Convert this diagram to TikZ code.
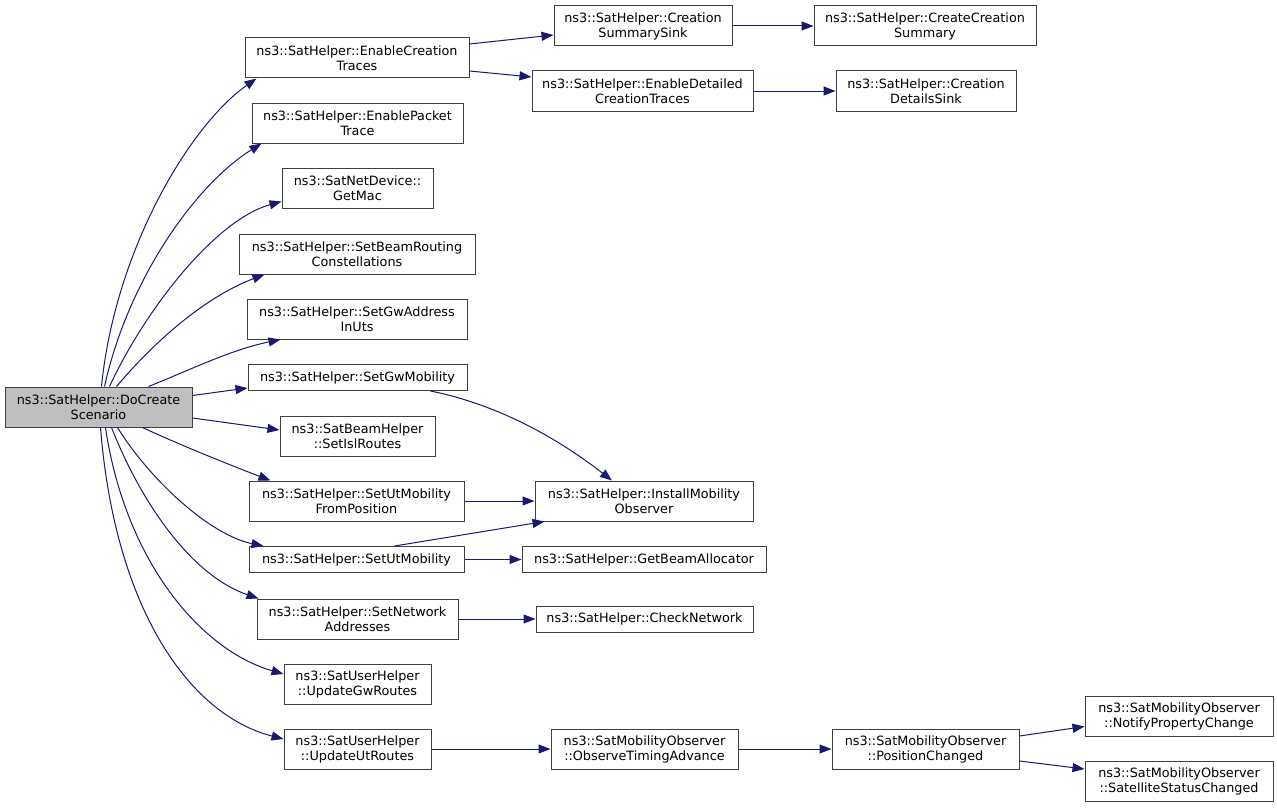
\documentclass[tikz,border=0pt]{standalone}
\usepackage{fontspec}
\setmainfont{DejaVu Sans}
\usetikzlibrary{arrows.meta,calc}
\definecolor{edgeblue}{HTML}{191970}
\definecolor{boxline}{HTML}{404040}
\definecolor{rootfill}{HTML}{BFBFBF}
\begin{document}
\begin{tikzpicture}[x=1pt,y=-1pt,
  box/.style={draw=boxline,line width=1pt,fill=white,align=center,
    font=\fontsize{12.8}{15}\selectfont,inner sep=0pt,minimum height=40pt},
  sbox/.style={box,minimum height=26pt},
  conn/.style={draw=edgeblue,line width=1pt,-{Triangle[length=12pt,width=9pt]}}
]
\useasboundingbox (0,0) rectangle (1277,808);
\fill[white] (0,0) rectangle (1277,808);

% root
\node[box,fill=rootfill,minimum width=187pt] (root) at (98.5,407) {ns3::SatHelper::DoCreate\\Scenario};

% rank 1
\node[box,minimum width=224pt] (ect) at (357,58) {ns3::SatHelper::EnableCreation\\Traces};
\node[box,minimum width=211pt] (ept) at (357.5,123) {ns3::SatHelper::EnablePacket\\Trace};
\node[box,minimum width=151pt] (gm) at (357.5,188) {ns3::SatNetDevice::\\GetMac};
\node[box,minimum width=236pt] (sbr) at (357,254) {ns3::SatHelper::SetBeamRouting\\Constellations};
\node[box,minimum width=220pt] (sga) at (357,319) {ns3::SatHelper::SetGwAddress\\InUts};
\node[sbox,minimum width=219pt] (sgm) at (357.5,377.5) {ns3::SatHelper::SetGwMobility};
\node[box,minimum width=155pt] (sir) at (357.5,436) {ns3::SatBeamHelper\\::SetIslRoutes};
\node[box,minimum width=215pt] (sump) at (356.5,501) {ns3::SatHelper::SetUtMobility\\FromPosition};
\node[sbox,minimum width=215pt] (sum) at (356.5,559.5) {ns3::SatHelper::SetUtMobility};
\node[box,minimum width=201pt] (sna) at (357.5,619) {ns3::SatHelper::SetNetwork\\Addresses};
\node[box,minimum width=147pt] (ugr) at (357.5,684) {ns3::SatUserHelper\\::UpdateGwRoutes};
\node[box,minimum width=147pt] (uur) at (357.5,749) {ns3::SatUserHelper\\::UpdateUtRoutes};

% rank 2
\node[box,minimum width=178pt] (css) at (643,26) {ns3::SatHelper::Creation\\SummarySink};
\node[box,minimum width=221pt] (edc) at (642.5,91) {ns3::SatHelper::EnableDetailed\\CreationTraces};
\node[box,minimum width=218pt] (imo) at (644,501) {ns3::SatHelper::InstallMobility\\Observer};
\node[sbox,minimum width=244pt] (gba) at (644,559.5) {ns3::SatHelper::GetBeamAllocator};
\node[sbox,minimum width=217pt] (cn) at (644.5,619) {ns3::SatHelper::CheckNetwork};
\node[box,minimum width=187pt] (ota) at (644.5,749) {ns3::SatMobilityObserver\\::ObserveTimingAdvance};

% rank 3
\node[box,minimum width=222pt] (ccs) at (925,26) {ns3::SatHelper::CreateCreation\\Summary};
\node[box,minimum width=180pt] (cds) at (926,91) {ns3::SatHelper::Creation\\DetailsSink};
\node[box,minimum width=187pt] (pc) at (925.5,749) {ns3::SatMobilityObserver\\::PositionChanged};

% rank 4
\node[box,minimum width=188pt] (npc) at (1179,716.5) {ns3::SatMobilityObserver\\::NotifyPropertyChange};
\node[box,minimum width=188pt] (ssc) at (1179,781) {ns3::SatMobilityObserver\\::SatelliteStatusChanged};

% edges from root
\draw[conn] ($(root.north)+(3,0)$) .. controls (115,250) and (190,125) .. ($(ect.south west)+(12,0)$);
\draw[conn] ($(root.north)+(6,0)$) .. controls (128,280) and (195,185) .. ($(ept.south west)+(10,0)$);
\draw[conn] ($(root.north)+(11,0)$) .. controls (145,310) and (215,220) .. ($(gm.south west)+(0,-7)$);
\draw[conn] ($(root.north)+(18,0)$) .. controls (160,335) and (210,295) .. ($(sbr.south west)+(26,0)$);
\draw[conn] ($(root.north)+(50,0)$) .. controls (190,370) and (230,350) .. ($(sga.south west)+(34,0)$);
\draw[conn] ($(root.north east)+(0,9)$) -- ($(sgm.south west)+(0,-3)$);
\draw[conn] ($(root.east)+(0,11)$) -- ($(sir.west)+(0,-6)$);
\draw[conn] ($(root.south)+(44,0)$) .. controls (180,445) and (230,465) .. ($(sump.north west)+(22,0)$);
\draw[conn] ($(root.south)+(19,0)$) .. controls (150,480) and (210,535) .. ($(sum.north west)+(15,0)$);
\draw[conn] ($(root.south)+(13,0)$) .. controls (140,500) and (190,575) .. ($(sna.north west)+(2,0)$);
\draw[conn] ($(root.south)+(7,0)$) .. controls (125,560) and (200,650) .. ($(ugr.west)+(0,-10)$);
\draw[conn] ($(root.south)+(2,0)$) .. controls (115,610) and (190,715) .. ($(uur.west)+(0,-10)$);

% other edges
\draw[conn] ($(ect.east)+(0,-14)$) -- ($(css.west)+(0,9)$);
\draw[conn] ($(ect.east)+(0,13)$) -- ($(edc.west)+(0,-14)$);
\draw[conn] (css) -- (ccs);
\draw[conn] (edc) -- (cds);
\draw[conn] ($(sgm.south)+(73,0)$) .. controls (500,405) and (560,440) .. ($(imo.north)+(-32,0)$);
\draw[conn] (sump) -- (imo);
\draw[conn] ($(sum.north)+(38,0)$) -- ($(imo.south west)+(10,0)$);
\draw[conn] (sum) -- (gba);
\draw[conn] (sna) -- (cn);
\draw[conn] (uur) -- (ota);
\draw[conn] (ota) -- (pc);
\draw[conn] ($(pc.east)+(0,-13)$) -- ($(npc.west)+(0,10)$);
\draw[conn] ($(pc.east)+(0,12)$) -- ($(ssc.west)+(0,-12)$);
\end{tikzpicture}
\end{document}
